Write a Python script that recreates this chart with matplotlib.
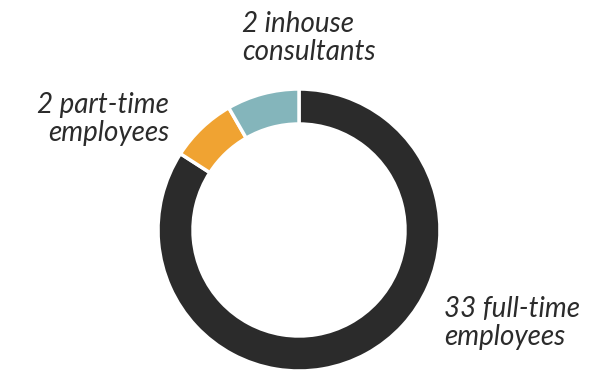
import matplotlib
matplotlib.use("Agg")
import matplotlib.pyplot as plt

categories = ["full-time employees", "part-time employees", "inhouse consultants"]
counts = [33, 2, 2]
# slice shares as drawn in the picture (percent of the ring)
shares = [84.1, 7.6, 8.3]
colors = ["#2b2b2b", "#f0a332", "#84b5bb"]
labels = ["33 full-time\nemployees", "2 part-time\nemployees", "2 inhouse\nconsultants"]

fig = plt.figure(figsize=(6.05, 3.7), dpi=100)
ax = fig.add_axes([0, 0, 1, 1])

ax.pie(shares, colors=colors, startangle=90, counterclock=False,
       center=(299, 140), radius=141, frame=True,
       wedgeprops=dict(width=35, edgecolor="white", linewidth=2.5))
ax.set_xlim(0, 605)
ax.set_ylim(0, 370)
ax.set_aspect("equal")
ax.axis("off")

font = dict(family=["Lato", "DejaVu Sans"], style="italic", fontsize=20,
            color="#2b2b2b", linespacing=1.08)
ax.text(242, 359, labels[2], ha="left", va="top", **font)
ax.text(169, 278, labels[1], ha="right", va="top", multialignment="right", **font)
ax.text(444, 74, labels[0], ha="left", va="top", **font)

fig.savefig("out.png", dpi=100)
